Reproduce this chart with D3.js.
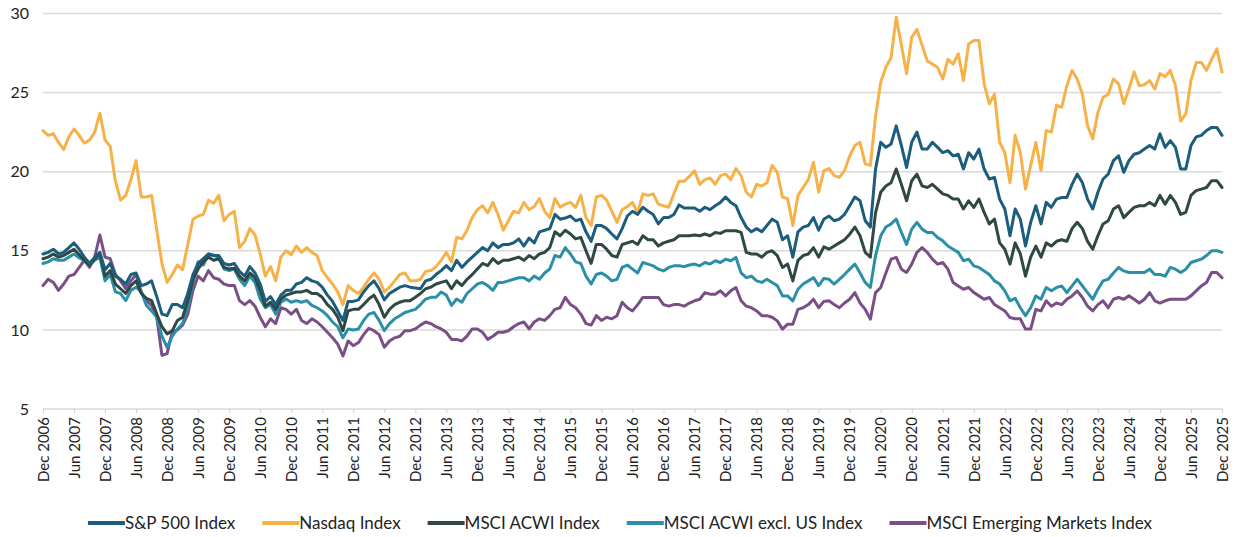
<!DOCTYPE html>
<html>
<head>
<meta charset="utf-8">
<script src="https://cdn.jsdelivr.net/npm/d3@7"></script>
<style>
  html, body { margin: 0; padding: 0; background: #fff; }
  svg { display: block; font-family: Lato, "Open Sans", sans-serif; }
</style>
</head>
<body>
<svg id="chart" width="1239" height="537"></svg>
<script>
// Monthly forward P/E ratios, Dec 2006 through Dec 2025 (229 months)

const sp500 = [
14.8,14.9,15.1,14.8,14.9,15.2,15.5,15.1,14.6,14.2,14.6,14.9,13.8,14.2,13.4,13.2,12.9,13.5,13.6,12.8,12.9,13.1,12.1,11.0,10.9,
11.6,11.6,11.4,12.3,13.5,14.2,14.5,14.8,14.7,14.7,14.2,14.1,14.2,13.7,13.4,14.0,13.6,12.9,11.8,12.1,11.6,12.2,12.5,12.5,12.9,
13.0,13.3,13.1,13.0,12.7,12.2,11.8,11.2,10.6,11.8,11.8,11.9,12.4,12.8,13.1,12.6,11.9,12.3,12.5,12.7,12.8,12.7,12.65,12.6,13.1,
13.2,13.5,13.75,14.06,13.75,14.4,13.95,14.3,14.6,14.9,15.2,15.0,15.5,15.2,15.4,15.4,15.5,15.75,15.3,15.8,15.5,16.2,16.3,16.4,17.3,
17.0,17.07,17.2,16.9,17.0,16.2,15.6,16.6,16.6,16.4,16.06,15.75,16.4,17.2,17.5,17.3,17.75,17.5,17.3,16.7,17.1,17.1,17.3,17.9,17.7,
17.7,17.7,17.5,17.75,17.6,17.85,18.06,18.4,18.06,17.85,17.1,16.5,16.2,16.4,16.2,16.6,17.0,16.8,15.7,15.95,14.6,16.2,16.5,16.6,17.1,
16.3,17.0,17.2,16.9,17.0,17.3,17.85,18.4,18.16,16.9,16.5,20.17,21.86,21.54,21.75,22.9,21.65,20.27,21.86,22.5,21.43,21.43,21.86,21.54,21.2,
21.33,21.0,21.1,20.17,21.2,20.8,21.43,20.17,19.54,19.64,18.27,17.64,15.95,17.64,17.0,15.3,16.8,17.85,16.7,18.06,17.75,18.27,18.37,18.37,19.2,
19.85,19.3,18.27,17.64,18.7,19.54,19.85,20.7,21.0,19.96,20.7,21.1,21.2,21.43,21.65,21.43,22.4,21.54,21.96,21.54,20.17,20.17,21.65,22.2,22.3,
22.6,22.8,22.8,22.3
];

const nasdaq = [
22.6,22.3,22.4,21.85,21.4,22.2,22.7,22.3,21.8,22.0,22.5,23.7,22.0,21.6,19.4,18.2,18.5,19.5,20.7,18.4,18.4,18.5,16.3,14.2,13.0,
13.5,14.1,13.8,15.4,17.0,17.2,17.3,18.2,18.0,18.5,16.9,17.3,17.5,15.2,15.6,16.4,16.0,14.8,13.4,14.0,13.1,14.6,15.0,14.75,15.3,
14.9,15.2,14.9,14.7,13.75,13.3,12.9,12.4,11.6,12.8,12.5,12.3,12.7,13.2,13.6,13.2,12.4,12.7,13.1,13.5,13.6,13.1,13.1,13.2,13.7,
13.75,14.0,14.4,14.9,14.3,15.85,15.75,16.3,17.1,17.6,17.85,17.4,18.06,17.3,16.3,16.9,17.5,17.4,18.06,17.6,17.8,18.3,17.5,17.1,18.3,
17.75,17.95,18.06,17.75,18.5,17.1,16.6,18.4,18.5,18.2,17.5,16.8,17.6,17.8,18.06,17.4,18.6,18.5,18.6,17.95,17.85,17.75,18.6,19.4,19.4,
19.7,20.06,19.2,19.5,19.6,19.2,19.75,19.85,19.5,20.2,19.75,18.7,18.4,19.2,19.1,19.3,20.4,19.95,18.4,18.3,16.6,18.5,19.0,19.5,20.6,
18.7,20.06,20.2,19.75,19.64,20.06,21.0,21.65,21.86,20.5,20.4,23.5,25.65,26.6,27.2,29.77,28.0,26.2,28.5,29.0,28.0,27.0,26.8,26.6,25.86,
27.1,26.8,27.45,25.76,28.08,28.3,28.3,25.55,24.3,24.9,21.86,21.2,19.3,22.3,21.2,18.9,20.4,21.86,20.06,22.6,22.5,24.2,24.07,25.44,26.4,
25.86,24.9,22.9,22.07,23.75,24.7,24.9,25.86,25.55,24.3,25.23,26.3,25.44,25.5,25.76,25.23,26.2,26.0,26.4,25.44,23.2,23.65,25.76,26.9,26.9,
26.4,27.1,27.76,26.3
];

const acwi = [
14.5,14.6,14.8,14.6,14.7,14.9,15.1,14.75,14.4,14.1,14.5,14.8,13.4,13.75,12.9,12.6,12.3,12.8,13.1,12.3,12.0,11.85,11.0,10.2,9.75,
9.95,10.6,10.8,11.85,13.2,13.85,14.3,14.6,14.4,14.5,13.95,13.85,13.9,13.4,13.1,13.6,13.3,12.5,11.5,11.75,11.3,11.95,12.2,12.3,12.4,
12.4,12.5,12.3,12.3,12.06,11.6,11.3,10.8,9.95,11.2,11.3,11.3,11.6,11.95,12.2,11.6,10.8,11.3,11.6,11.75,11.85,11.85,12.06,12.3,12.6,
12.7,12.9,13.0,13.1,12.6,13.1,12.8,13.2,13.5,13.85,14.2,14.06,14.5,14.2,14.4,14.4,14.5,14.6,14.4,14.7,14.5,14.8,14.9,15.2,16.2,
15.95,16.3,16.06,15.75,15.85,15.0,14.2,15.4,15.4,15.1,14.7,14.6,15.4,15.5,15.6,15.4,15.95,15.7,15.7,15.3,15.5,15.6,15.7,15.95,15.95,
15.95,16.0,15.95,16.06,15.95,16.16,16.1,16.27,16.27,16.27,16.16,14.9,14.8,14.8,14.6,14.9,15.0,14.7,13.95,14.16,13.1,14.4,14.7,14.8,15.2,
14.6,15.25,15.1,15.3,15.5,15.7,16.05,16.5,15.95,14.9,14.6,17.4,18.7,19.1,19.3,20.17,19.2,18.16,19.43,19.85,19.1,19.0,19.2,18.9,18.6,
18.5,18.27,18.27,17.64,18.16,17.74,18.27,17.43,16.7,17.0,15.5,15.1,14.16,15.5,14.8,13.4,14.6,15.3,14.6,15.5,15.3,15.6,15.7,15.6,16.4,
16.8,16.4,15.6,15.1,15.95,16.7,16.9,17.64,17.85,17.1,17.43,17.74,17.85,17.85,18.06,17.85,18.5,17.95,18.5,18.06,17.3,17.43,18.5,18.8,18.9,
19.0,19.43,19.43,19.0
];

const acwiExUs = [
14.2,14.3,14.5,14.4,14.4,14.6,14.8,14.55,14.4,14.1,14.4,14.6,13.1,13.5,12.4,12.3,11.85,12.5,12.7,12.4,11.55,11.2,10.8,9.6,8.9,
9.6,10.06,10.4,11.4,13.0,14.3,14.1,14.8,14.7,14.6,13.85,13.75,13.85,13.2,12.8,13.4,13.0,11.95,11.4,11.6,11.0,11.75,11.95,11.75,11.85,
11.75,11.85,11.55,11.4,11.2,10.9,10.5,10.2,9.5,10.06,10.0,10.06,10.6,11.0,11.1,10.6,9.95,10.4,10.7,10.9,11.1,11.2,11.3,11.6,11.95,
12.06,12.06,12.4,12.2,11.55,11.95,11.75,12.3,12.6,12.9,13.0,12.8,12.5,13.0,13.0,13.1,13.2,13.3,13.3,13.1,13.4,13.2,13.6,13.85,14.7,
14.6,15.2,14.8,14.3,14.2,13.4,12.9,13.5,13.6,13.4,13.1,13.2,13.95,14.1,13.84,13.6,14.26,14.16,14.05,13.84,13.73,13.95,14.05,14.05,14.0,
14.1,14.16,14.05,14.26,14.16,14.37,14.26,14.47,14.37,14.58,13.6,13.3,13.4,13.1,13.0,13.2,13.0,12.8,12.15,12.15,11.84,12.57,12.9,13.1,13.3,
12.8,13.25,13.2,12.9,13.2,13.5,13.84,14.16,13.6,13.0,12.68,14.7,15.95,16.5,16.7,17.0,16.16,15.4,16.37,16.8,16.37,16.16,16.16,15.84,15.63,
15.3,15.1,14.9,14.37,14.47,14.05,13.95,13.73,13.5,13.1,12.9,12.47,11.84,12.0,11.4,10.9,11.4,12.15,11.94,12.68,12.47,12.68,12.78,12.36,12.78,
13.2,12.78,12.36,11.94,12.57,13.1,13.2,13.6,13.95,13.73,13.63,13.63,13.63,13.63,13.84,13.5,13.5,13.4,13.95,13.84,13.63,13.84,14.26,14.37,14.47,
14.7,15.0,15.0,14.9
];

const emergingMkts = [
12.8,13.2,13.0,12.5,12.9,13.4,13.5,13.95,14.4,13.95,14.6,16.0,14.6,14.5,13.5,13.1,12.6,13.1,13.5,12.4,11.85,11.55,10.8,8.4,8.5,
9.9,10.0,10.3,11.0,12.5,13.4,13.1,13.75,13.3,13.2,12.9,12.8,12.8,11.85,11.6,11.85,11.5,10.8,10.2,10.7,10.4,11.4,11.3,11.0,11.3,
10.6,10.4,10.7,10.5,10.2,9.85,9.5,9.1,8.35,9.3,9.0,9.2,9.7,10.1,9.95,9.7,8.9,9.3,9.5,9.6,9.95,9.95,10.06,10.3,10.5,
10.4,10.2,10.06,9.85,9.4,9.4,9.3,9.6,10.06,10.06,9.85,9.4,9.6,9.85,9.85,9.95,10.2,10.4,10.5,10.06,10.5,10.7,10.6,10.9,11.3,
11.4,12.06,11.6,11.4,11.0,10.4,10.3,10.9,10.6,10.8,10.7,10.9,11.75,11.4,11.2,11.6,12.05,12.05,12.05,12.05,11.6,11.5,11.6,11.6,11.5,
11.7,11.84,11.94,12.36,12.26,12.26,12.47,12.15,12.47,12.68,11.84,11.5,11.4,11.2,10.9,10.9,10.8,10.57,10.05,10.36,10.36,11.3,11.4,11.6,11.94,
11.4,11.8,11.84,11.6,11.4,11.7,11.94,12.36,11.7,11.3,10.68,12.36,12.68,13.6,14.47,14.58,13.84,13.63,14.16,14.9,15.2,14.9,14.47,14.16,14.26,
13.84,13.0,12.78,12.57,12.68,12.36,12.15,11.94,12.05,11.6,11.4,11.2,10.78,10.7,10.7,10.05,10.05,11.3,11.2,11.84,11.5,11.7,11.6,11.94,12.15,
12.47,12.05,11.5,11.2,11.6,11.84,11.4,11.94,12.05,11.94,12.15,11.94,11.7,11.94,12.36,11.84,11.7,11.84,11.94,11.94,11.94,11.94,12.15,12.47,12.78,
13.0,13.63,13.63,13.3
];

const seriesNames = ["S&P 500 Index", "Nasdaq Index", "MSCI ACWI Index", "MSCI ACWI excl. US Index", "MSCI Emerging Markets Index"];
const seriesColors = ["#1c5d7d", "#f6b249", "#2f4843", "#2a8fa7", "#7a4e86"];
// Draw order: Nasdaq underneath, then EM, ex-US, ACWI, S&P on top
const drawOrder = [1, 4, 3, 2, 0];

const yTicks = [5, 10, 15, 20, 25, 30];
const xTickLabels = [
  "Dec 2006","Jun 2007","Dec 2007","Jun 2008","Dec 2008","Jun 2009","Dec 2009","Jun 2010","Dec 2010","Jun 2011",
  "Dec 2011","Jun 2012","Dec 2012","Jun 2013","Dec 2013","Jun 2014","Dec 2014","Jun 2015","Dec 2015","Jun 2016",
  "Dec 2016","Jun 2017","Dec 2017","Jun 2018","Dec 2018","Jun 2019","Dec 2019","Jun 2020","Dec 2020","Jun 2021",
  "Dec 2021","Jun 2022","Dec 2022","Jun 2023","Dec 2023","Jun 2024","Dec 2024","Jun 2025","Dec 2025"
];

const allSeries = [sp500, nasdaq, acwi, acwiExUs, emergingMkts];

const svg = d3.select("#chart");
const plotLeft = 43, plotRight = 1222, plotTop = 13.5, plotBottom = 409;
const nMonths = sp500.length;

const x = d3.scaleLinear().domain([0, nMonths - 1]).range([plotLeft, plotRight]);
const y = d3.scaleLinear().domain([5, 30]).range([plotBottom, plotTop]);

// horizontal gridlines
svg.append("g")
  .selectAll("line")
  .data(yTicks)
  .join("line")
  .attr("x1", plotLeft).attr("x2", plotRight)
  .attr("y1", d => y(d)).attr("y2", d => y(d))
  .attr("stroke", "#d9d9d9")
  .attr("stroke-width", 1.5);

// y axis labels
const yAxis = d3.axisLeft(y).tickValues(yTicks).tickSize(0).tickPadding(14).tickFormat(d3.format("d"));
const gy = svg.append("g").attr("transform", `translate(${plotLeft},0)`).call(yAxis);
gy.select(".domain").remove();
gy.selectAll("text")
  .attr("fill", "#222")
  .style("font-size", "16px")
  .style("font-family", "Lato, sans-serif");

// x axis: a tick every six months, labels rotated
const tickIdx = xTickLabels.map((_, k) => k * 6);
const xAxis = d3.axisBottom(x)
  .tickValues(tickIdx)
  .tickSize(4)
  .tickPadding(6)
  .tickFormat((d, k) => xTickLabels[k]);
const gx = svg.append("g").attr("transform", `translate(0,${plotBottom})`).call(xAxis);
gx.select(".domain").remove();
gx.selectAll(".tick line").attr("stroke", "#d0d0d0").attr("stroke-width", 1);
gx.selectAll("text")
  .attr("fill", "#222")
  .style("font-size", "15px")
  .style("font-family", "Lato, sans-serif")
  .attr("text-anchor", "end")
  .attr("transform", "rotate(-90)")
  .attr("x", -8)
  .attr("y", 0)
  .attr("dy", "0.35em");

// series lines
const line = d3.line()
  .x((d, i) => x(i))
  .y(d => y(d));

svg.append("g")
  .selectAll("path")
  .data(drawOrder)
  .join("path")
  .attr("d", k => line(allSeries[k]))
  .attr("fill", "none")
  .attr("stroke", k => seriesColors[k])
  .attr("stroke-width", 3)
  .attr("stroke-linejoin", "round")
  .attr("stroke-linecap", "round");

// legend: swatch line + label, items laid out in a centred row
const swatchW = 37, itemGap = 27, legendCenter = 620;
const legend = svg.append("g").attr("transform", "translate(0,523)");
const items = legend.selectAll("g")
  .data(seriesNames)
  .join("g");
items.append("line")
  .attr("x1", 0).attr("x2", swatchW)
  .attr("y1", 0).attr("y2", 0)
  .attr("stroke", (d, k) => seriesColors[k])
  .attr("stroke-width", 4);
items.append("text")
  .attr("x", swatchW)
  .attr("dy", "0.35em")
  .attr("fill", "#222")
  .style("font-size", "17px")
  .style("font-family", "Lato, sans-serif")
  .text(d => d);

const widths = [];
items.each(function() { widths.push(swatchW + this.querySelector("text").getComputedTextLength()); });
const totalW = d3.sum(widths) + itemGap * (widths.length - 1);
let cursor = legendCenter - totalW / 2;
items.attr("transform", (d, k) => {
  const t = `translate(${cursor},0)`;
  cursor += widths[k] + itemGap;
  return t;
});
</script>
</body>
</html>
